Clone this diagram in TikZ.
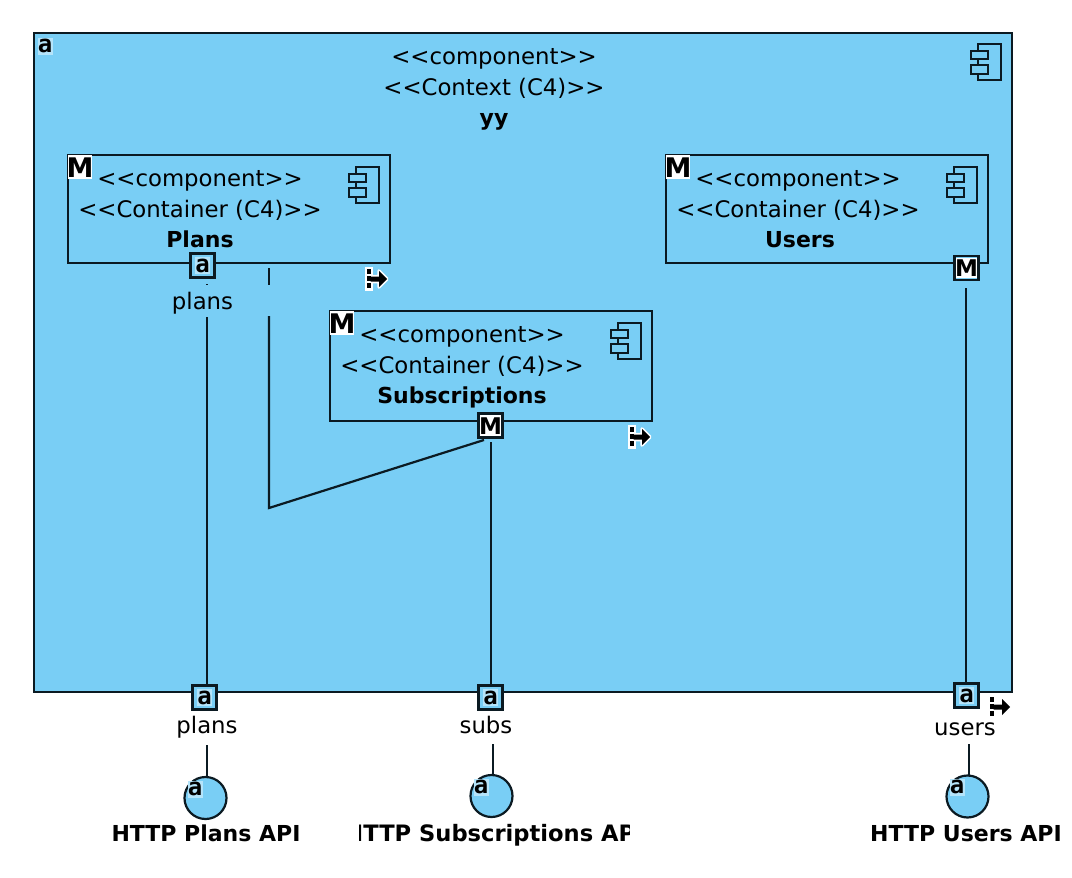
\documentclass[tikz,border=0pt]{standalone}
\usepackage{fontspec}
\setmainfont{DejaVu Sans}
\newfontfamily\iconfont{DejaVu Sans Mono}
\definecolor{cblue}{HTML}{79CEF5}
\definecolor{clin}{HTML}{0B1A22}
\newcommand{\dl}{<{}<}
\newcommand{\dr}{>{}>}
\newcommand{\Mglyph}{\makebox[14pt]{M}}
\tikzset{
  x=1pt,y=-1pt,
  lbl/.style={inner sep=0pt,font=\fontsize{22.8}{22.8}\selectfont,text=black,anchor=center,text height=17pt,text depth=5pt},
  blbl/.style={inner sep=0pt,font=\fontsize{22}{22}\selectfont\bfseries,text=black,anchor=center,text height=17pt,text depth=5pt},
  compbox/.style={draw=clin,fill=cblue,line width=2.2pt,anchor=north west,inner sep=0pt,outer sep=0pt},
  portbox/.style={draw=clin,fill=cblue,line width=2.2pt,minimum size=24pt,inner sep=0pt,outer sep=0pt},
  conn/.style={draw=clin,line width=2.2pt},
  aicon/.style={fill=white!45!cblue,inner sep=0pt,font=\iconfont\fontsize{24}{24}\selectfont\bfseries,text=black,text height=14pt,text depth=1pt,minimum width=15pt,minimum height=17pt},
  micon/.style={fill=white,inner sep=0pt,font=\fontsize{27}{27}\selectfont\bfseries,text=black,text height=20pt,text depth=0pt,minimum width=24pt,minimum height=24pt},
  mport/.style={fill=white,inner sep=0pt,font=\fontsize{23}{23}\selectfont\bfseries,text=black,text height=17pt,text depth=0pt,minimum width=20.5pt,minimum height=20.5pt},
  iface/.style={circle,draw=clin,fill=cblue,line width=2.2pt,minimum size=42pt,inner sep=0pt,outer sep=0pt},
  pics/compicon/.style={code={
    \draw[clin,line width=2.2pt] (-11,-18) rectangle (12,18);
    \draw[clin,line width=2.2pt,fill=cblue] (-18,-11) rectangle (-1,-3);
    \draw[clin,line width=2.2pt,fill=cblue] (-18,3) rectangle (-1,12);
  }},
  pics/goicon/.style={code={
    \draw[white,fill=white,line width=3.5pt,line join=miter] (-10,-10) rectangle (-6,10);
    \draw[white,fill=white,line width=3.5pt,line join=round] (-6,-2.5) -- (2,-2.5) -- (2,-8) -- (10,0) -- (2,8) -- (2,2.5) -- (-6,2.5) -- cycle;
    \foreach \yy in {-10,-3,4}{\fill[black] (-10,\yy) rectangle (-6.5,\yy+5);}
    \fill[black] (-6.5,-2.5) -- (2,-2.5) -- (2,-8) -- (10,0) -- (2,8) -- (2,2.5) -- (-6.5,2.5) -- cycle;
  }},
}
\begin{document}
\begin{tikzpicture}
\useasboundingbox (0,0) rectangle (1072,878);
\fill[white] (0,0) rectangle (1072,878);
% outer component
\node[compbox,minimum width=978pt,minimum height=659pt] (yy) at (34,33) {};
\pic at (989,62) {compicon};
\node[aicon] (yya) at (45,46) {a};
\node[lbl] (t1) at (494,58) {\dl component\dr};
\node[lbl] (t2) at (494,89) {\dl Context (C4)\dr};
\node[blbl] (t3) at (494,119) {yy};
% Plans
\node[compbox,minimum width=322pt,minimum height=108pt] (plans) at (68,155) {};
\pic at (367,185) {compicon};
\node[micon] (plansm) at (80,167) {\Mglyph};
\node[lbl] at (200,180) {\dl component\dr};
\node[lbl] at (200,211) {\dl Container (C4)\dr};
\node[blbl] at (200,241.5) {Plans};
% Users
\node[compbox,minimum width=322pt,minimum height=108pt] (users) at (666,155) {};
\pic at (965,185) {compicon};
\node[micon] (usersm) at (678,167) {\Mglyph};
\node[lbl] at (798,180) {\dl component\dr};
\node[lbl] at (798,211) {\dl Container (C4)\dr};
\node[blbl] at (800,241.5) {Users};
% Subscriptions
\node[compbox,minimum width=322pt,minimum height=110pt] (subs) at (330,311) {};
\pic at (629,341) {compicon};
\node[micon] (subsm) at (342,323) {\Mglyph};
\node[lbl] at (462,336) {\dl component\dr};
\node[lbl] at (462,367) {\dl Container (C4)\dr};
\node[blbl] at (462,397.5) {Subscriptions};
% go icons
\pic at (377,279) {goicon};
\pic at (640,437) {goicon};
\pic at (1000,707) {goicon};
% ports
\node[portbox] (pplans) at (202.5,265.5) {};
\node[aicon] at (pplans) {a};
\node[portbox] (psubs) at (490.5,425.5) {};
\node[mport] at (psubs) {\Mglyph};
\node[portbox] (pusers) at (966.5,268) {};
\node[mport] at (pusers) {\Mglyph};
\node[portbox] (oplans) at (204.5,697.5) {};
\node[aicon] at (oplans) {a};
\node[portbox] (osubs) at (490.5,697.5) {};
\node[aicon] at (osubs) {a};
\node[portbox] (ousers) at (966.5,695.5) {};
\node[aicon] at (ousers) {a};
% connectors
\coordinate (c1) at (207,317);
\coordinate (c1d) at (207,284);
\coordinate (c2a) at (269,268);
\coordinate (c2b) at (269,285);
\coordinate (c2c) at (269,316);
\coordinate (c2d) at (269,508);
\coordinate (c3) at (484,440);
\coordinate (c4) at (491,442);
\coordinate (c5) at (966,288);
\draw[conn] (c1d) -- ++(0,1);
\draw[conn] (c1) -- (c1 |- oplans.north);
\draw[conn] (c2a) -- (c2b);
\draw[conn] (c2c) -- (c2d) -- (c3);
\draw[conn] (c4) -- (c4 |- osubs.north);
\draw[conn] (c5) -- (c5 |- ousers.north);
% port labels
\node[lbl] (lp0) at (202.5,303) {plans};
\node[lbl] (lp1) at (207,727) {plans};
\node[lbl] (lp2) at (486,727) {subs};
\node[lbl] (lp3) at (965,729) {users};
% interfaces
\node[iface] (iplans) at (205.5,798) {};
\node[iface] (isubs) at (491.5,796) {};
\node[iface] (iusers) at (967.5,796.5) {};
\coordinate (s1) at (207,745);
\coordinate (s2) at (493,744);
\coordinate (s3) at (969,744);
\draw[conn] (s1) -- (s1 |- iplans.north);
\draw[conn] (s2) -- (s2 |- isubs.north);
\draw[conn] (s3) -- (s3 |- iusers.north);
\node[aicon] at (195,789) {a};
\node[aicon] at (481,787) {a};
\node[aicon] at (957,787) {a};
\node[blbl] (np) at (206,835) {HTTP Plans API};
\begin{scope}
\clip (359,815) rectangle (629.5,850);
\node[blbl,font=\fontsize{22.6}{22.6}\selectfont\bfseries] (ns) at (494,835) {HTTP Subscriptions API};
\end{scope}
\node[blbl] (nu) at (966,835) {HTTP Users API};
\end{tikzpicture}
\end{document}
